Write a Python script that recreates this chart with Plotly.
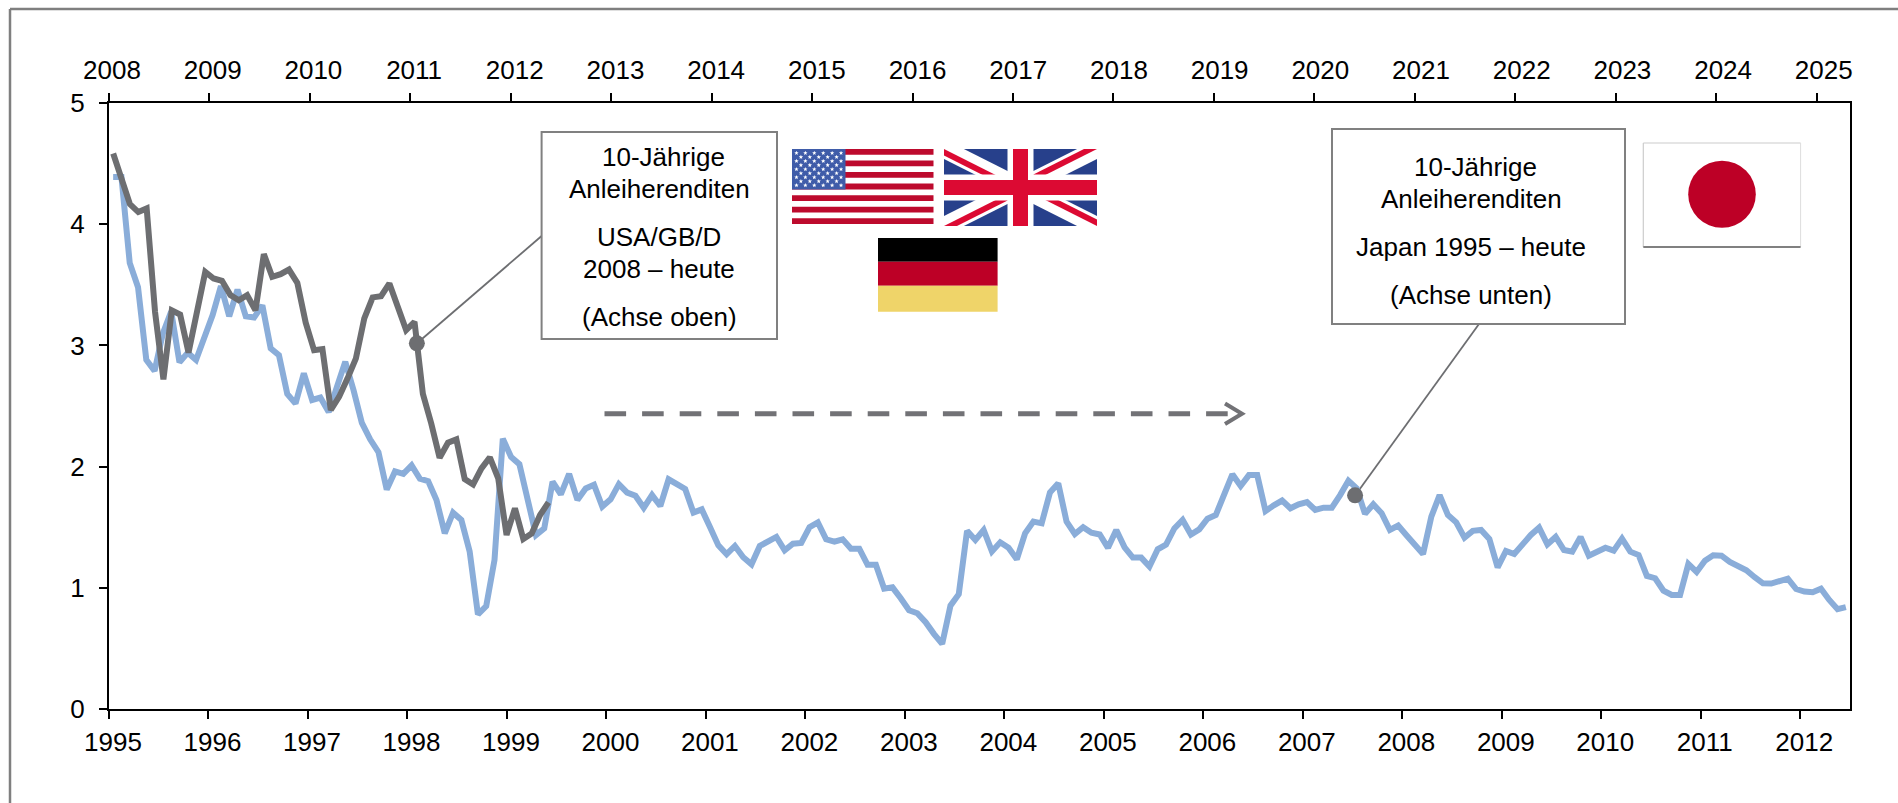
import math
import plotly.graph_objects as go

years_bottom = list(range(1995, 2013))
years_top = list(range(2008, 2026))

# 10-year government bond yields, monthly
japan_yield = [
    4.39, 4.39, 3.68, 3.48, 2.88, 2.79, 3.10, 3.28, 2.86, 2.94, 2.88, 3.07,
    3.25, 3.49, 3.24, 3.46, 3.24, 3.23, 3.33, 2.975, 2.92, 2.60, 2.52, 2.77,
    2.55, 2.57, 2.45, 2.66, 2.865, 2.63, 2.36, 2.225, 2.12, 1.81, 1.96, 1.94,
    2.01, 1.90, 1.88, 1.725, 1.45, 1.62, 1.56, 1.30, 0.78, 0.85, 1.23, 2.23,
    2.08, 2.02, 1.75, 1.435, 1.49, 1.875, 1.77, 1.94, 1.725, 1.82, 1.85, 1.67,
    1.73, 1.855, 1.785, 1.76, 1.66, 1.765, 1.675, 1.895, 1.855, 1.815, 1.62, 1.647,
    1.50, 1.35, 1.277, 1.345, 1.252, 1.194, 1.345, 1.386, 1.42, 1.31, 1.364, 1.37,
    1.50, 1.54, 1.40, 1.38, 1.40, 1.323, 1.323, 1.19, 1.19, 0.993, 1.004, 0.914,
    0.815, 0.79, 0.716, 0.62, 0.537, 0.853, 0.947, 1.47, 1.395, 1.477, 1.30, 1.375,
    1.33, 1.235, 1.45, 1.546, 1.532, 1.787, 1.862, 1.546, 1.444, 1.50, 1.455, 1.44,
    1.33, 1.477, 1.334, 1.249, 1.249, 1.175, 1.318, 1.356, 1.49, 1.56, 1.44, 1.482,
    1.57, 1.60, 1.785, 1.936, 1.84, 1.93, 1.93, 1.634, 1.68, 1.72, 1.656, 1.689,
    1.708, 1.642, 1.661, 1.661, 1.765, 1.884, 1.82, 1.61, 1.689, 1.615, 1.477, 1.513,
    1.433, 1.353, 1.279, 1.587, 1.765, 1.60, 1.54, 1.414, 1.47, 1.477, 1.403, 1.169,
    1.304, 1.279, 1.359, 1.436, 1.496, 1.359, 1.42, 1.312, 1.298, 1.42, 1.265, 1.298,
    1.331, 1.307, 1.406, 1.298, 1.271, 1.098, 1.079, 0.977, 0.941, 0.941, 1.197, 1.131,
    1.224, 1.268, 1.265, 1.213, 1.172, 1.145, 1.087, 1.037, 1.035, 1.051, 1.076, 0.99,
    0.969, 0.963, 0.993, 0.90, 0.823, 0.84,
]
usgbd_yield = [
    4.583, 4.39, 4.165, 4.10, 4.13, 3.277, 2.72, 3.29, 3.255, 2.94, 3.277, 3.607,
    3.552, 3.533, 3.415, 3.373, 3.415, 3.29, 3.753, 3.566, 3.588, 3.626, 3.516, 3.187,
    2.96, 2.97, 2.467, 2.577, 2.728, 2.893, 3.222, 3.396, 3.406, 3.511, 3.319, 3.126,
    3.195, 2.60, 2.356, 2.073, 2.197, 2.224, 1.897, 1.853, 1.985, 2.076, 1.903, 1.436,
    1.656, 1.403, 1.449, 1.60, 1.705,
]
dot_top = (36.28, 3.017)
dot_bottom = (149.8, 1.763)

W, H = 1898, 803
L, R, T, B = 109, 1850, 103, 709
FONT = "Liberation Sans, Arial, sans-serif"
BLUE, GRAY = "#8AADD9", "#6D6E71"
FLAG_RED, FLAG_BLUE = "#BD0A2D", "#3F5CA9"


def X(p):
    return (p - L) / (R - L)


def Y(p):
    return (B - p) / (B - T)


shapes = []


def rect(x0, y0, x1, y1, fill, line=None, lw=0, layer="above"):
    shapes.append(dict(type="rect", xref="paper", yref="paper", x0=X(x0), x1=X(x1), y0=Y(y1), y1=Y(y0),
                       fillcolor=fill, line=dict(color=line or fill, width=lw), layer=layer))


def line(x0, y0, x1, y1, color, width, dash="solid", layer="above"):
    shapes.append(dict(type="line", xref="paper", yref="paper", x0=X(x0), x1=X(x1), y0=Y(y0), y1=Y(y1),
                       line=dict(color=color, width=width, dash=dash), layer=layer))


def poly(points, fill=None, lcolor=None, lw=0, close=True):
    path = "M " + " L ".join(f"{X(a):.6f},{Y(b):.6f}" for a, b in points) + (" Z" if close else "")
    shapes.append(dict(type="path", xref="paper", yref="paper", path=path,
                       fillcolor=fill if fill else "rgba(0,0,0,0)",
                       line=dict(color=lcolor or "rgba(0,0,0,0)", width=lw), layer="above"))


# outer frame
line(10, 9, W, 9, "#7F7F7F", 2.5)
line(10, 9, 10, H, "#7F7F7F", 2.5)

# leader lines
line(417, 343.3, 541.6, 236, GRAY, 1.8, layer="below")
line(1355.3, 495.3, 1479, 324, GRAY, 1.8, layer="below")

# callout boxes
rect(541.6, 132, 777, 339, "white", "#808080", 2)
rect(1332, 129, 1625, 324, "white", "#808080", 2)

# USA flag
ux0, uy0, ux1, uy1 = 792, 149, 933.5, 224
rect(ux0, uy0, ux1, uy1, "white")
sh = (uy1 - uy0) / 13
for k in range(0, 13, 2):
    rect(ux0, uy0 + k * sh, ux1, uy0 + (k + 1) * sh, FLAG_RED)
cw, ch = 53.5, 7 * sh
rect(ux0, uy0, ux0 + cw, uy0 + ch, FLAG_BLUE)
star_paths = []
for r in range(9):
    n = 6 if r % 2 == 0 else 5
    for c in range(n):
        sx = ux0 + cw * ((c + (0.5 if r % 2 == 0 else 1.0)) / 6)
        sy = uy0 + ch * ((r + 1) / 10)
        pts = []
        for a in range(10):
            rad = 2.3 if a % 2 == 0 else 1.0
            ang = -math.pi / 2 + a * math.pi / 5
            pts.append((sx + rad * math.cos(ang), sy + rad * math.sin(ang)))
        star_paths.append("M " + " L ".join(f"{X(a):.6f},{Y(b):.6f}" for a, b in pts) + " Z")
shapes.append(dict(type="path", xref="paper", yref="paper", path=" ".join(star_paths),
                   fillcolor="white", line=dict(color="white", width=0), layer="above"))

# UK flag
x0, y0, x1, y1 = 944, 149, 1097, 226
cx, cy = (x0 + x1) / 2, (y0 + y1) / 2
w, h = x1 - x0, y1 - y0
rect(x0, y0, x1, y1, "#27408B")
d, e = w * 0.13, h * 0.13
poly([(x0, y0), (x0 + d, y0), (x1, y1 - e), (x1, y1), (x1 - d, y1), (x0, y0 + e)], "white")
poly([(x1, y0), (x1, y0 + e), (x0 + d, y1), (x0, y1), (x0, y1 - e), (x1 - d, y0)], "white")
t = w * 0.085
UKRED = "#DC0A33"
poly([(x0, y0), (cx, cy), (cx - t, cy), (x0, y0 + t * h / w)], UKRED)
poly([(x1, y1), (cx, cy), (cx + t, cy), (x1, y1 - t * h / w)], UKRED)
poly([(x1, y0), (cx, cy), (cx, cy - t * h / w), (x1 - t, y0)], UKRED)
poly([(x0, y1), (cx, cy), (cx, cy + t * h / w), (x0 + t, y1)], UKRED)
rect(cx - 13, y0, cx + 13, y1, "white")
rect(x0, cy - 13, x1, cy + 13, "white")
rect(cx - 7.5, y0, cx + 7.5, y1, UKRED)
rect(x0, cy - 7.5, x1, cy + 7.5, UKRED)

# German flag
rect(878, 238, 997.6, 261.7, "#000000")
rect(878, 261.7, 997.6, 285.7, "#BD0026")
rect(878, 285.7, 997.6, 311.7, "#EFD469")

# Japanese flag
rect(1643.3, 143, 1800.6, 247, "white")
line(1643.3, 143, 1800.6, 143, "#CCCCCC", 1.2)
line(1643.3, 143, 1643.3, 247, "#CCCCCC", 1.2)
line(1800.6, 143, 1800.6, 247, "#DDDDDD", 1)
line(1643.3, 247, 1800.6, 247, "#808080", 2)
shapes.append(dict(type="circle", xref="paper", yref="paper", x0=X(1688.2), x1=X(1755.8), y0=Y(227.8), y1=Y(160.8),
                   fillcolor="#BD0026", line=dict(width=0), layer="above"))

# dashed arrow
line(604.5, 413.7, 1238, 413.7, "#727276", 5, dash="21.6px,16px")
poly([(1225, 403.5), (1242, 413.7), (1225, 424)], None, "#727276", 4, close=False)


def note(px, py, text):
    return dict(xref="paper", yref="paper", x=X(px), y=Y(py), text=text, showarrow=False,
                xanchor="center", yanchor="middle", font=dict(family=FONT, size=26, color="black"))


annotations = [
    note(663, 157, "10-Jährige"),
    note(659, 189, "Anleiherenditen"),
    note(659, 237, "USA/GB/D"),
    note(659, 269, "2008 – heute"),
    note(659, 317, "(Achse oben)"),
    note(1475, 167, "10-Jährige"),
    note(1471, 199, "Anleiherenditen"),
    note(1471, 247, "Japan 1995 – heute"),
    note(1471, 295, "(Achse unten)"),
]

fig = go.Figure()
fig.add_trace(go.Scatter(x=list(range(len(japan_yield))), y=japan_yield, mode="lines",
                         line=dict(color=BLUE, width=6), xaxis="x", yaxis="y", showlegend=False))
fig.add_trace(go.Scatter(x=list(range(len(usgbd_yield))), y=usgbd_yield, mode="lines",
                         line=dict(color=GRAY, width=6), xaxis="x2", yaxis="y", showlegend=False))
fig.add_trace(go.Scatter(x=[dot_top[0]], y=[dot_top[1]], mode="markers",
                         marker=dict(color=GRAY, size=16), xaxis="x2", yaxis="y", showlegend=False))
fig.add_trace(go.Scatter(x=[dot_bottom[0]], y=[dot_bottom[1]], mode="markers",
                         marker=dict(color=GRAY, size=16), xaxis="x", yaxis="y", showlegend=False))

font = dict(family=FONT, size=26, color="black")
axis_common = dict(showgrid=False, zeroline=False, showline=True, linecolor="black", linewidth=2,
                   tickfont=font)
top_ticks = [-0.5 + 12 * k for k in range(len(years_top))]
fig.update_layout(
    width=W, height=H, margin=dict(l=L, r=W - R, t=T, b=H - B, pad=0),
    paper_bgcolor="white", plot_bgcolor="white", shapes=shapes, annotations=annotations,
    xaxis=dict(range=[-0.5, 209.5], tickmode="array",
               tickvals=[-0.5 + 12 * k for k in range(len(years_bottom))],
               ticktext=[str(v) for v in years_bottom], ticks="outside", ticklen=8, tickwidth=2, tickcolor="black",
               ticklabelshift=4, ticklabelstandoff=1, **axis_common),
    xaxis2=dict(range=[-0.5, 207.5], overlaying="x", side="top", anchor="y", tickmode="array",
                tickvals=[v + k * 0.03 for k, v in enumerate(top_ticks)],
                ticktext=[str(v) for v in years_top], ticks="outside", ticklen=0, tickwidth=0, tickcolor="black",
                minor=dict(tickmode="array", tickvals=top_ticks, ticks="outside", ticklen=8, tickwidth=2,
                           tickcolor="black", showgrid=False),
                ticklabelshift=3, ticklabelstandoff=12, **axis_common),
    yaxis=dict(range=[0, 5], tickmode="array", tickvals=[0, 1, 2, 3, 4, 5], ticks="outside", ticklen=8, tickwidth=2,
               tickcolor="black", ticklabelstandoff=9, mirror=True, **axis_common),
)
fig.write_html("out.html", config={"displayModeBar": False},
               post_script="document.body.style.margin='0';document.body.style.overflow='hidden';")
